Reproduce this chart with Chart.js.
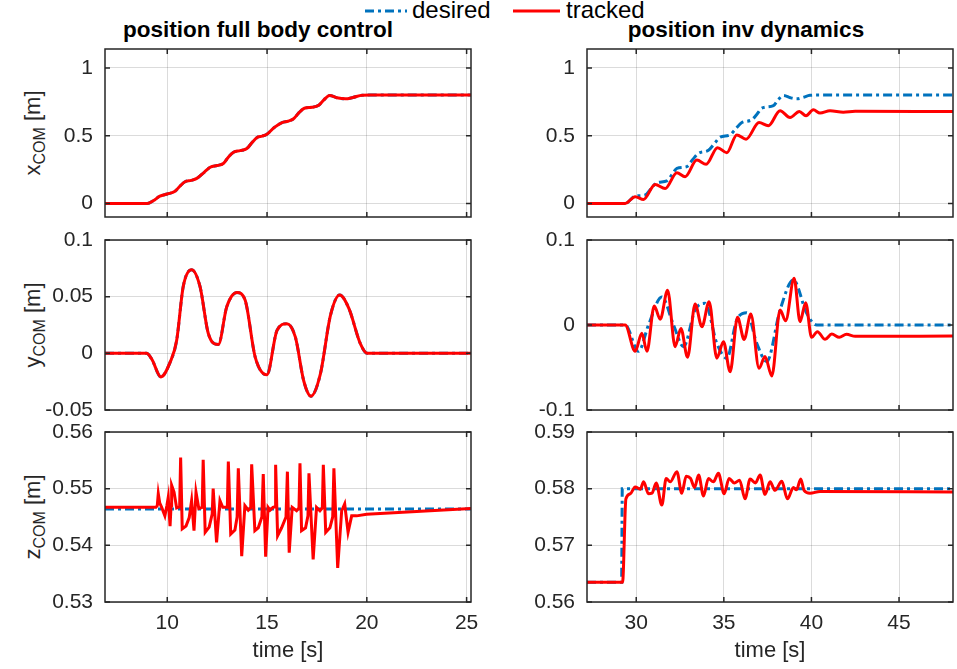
<!DOCTYPE html>
<html>
<head>
<meta charset="utf-8">
<script src="https://cdn.jsdelivr.net/npm/chart.js@4.4.0/dist/chart.umd.min.js"></script>
<style>
  body { margin: 0; background: #fff; width: 957px; height: 669px; overflow: hidden; position: relative;
         font-family: "Liberation Sans", Arial, sans-serif; color: #262626; }
  canvas { position: absolute; }
  .title { position: absolute; top: 17px; font-weight: bold; font-size: 22.5px; line-height: 26px;
           color: #000; white-space: nowrap; transform: translateX(-50%); }
  .ylab { position: absolute; font-size: 22px; line-height: 26px; white-space: nowrap;
          transform: translate(-50%, -50%) rotate(-90deg); }
  .ylab sub { font-size: 16px; vertical-align: -5px; }
  .leg { position: absolute; top: -3px; font-size: 24px; line-height: 26px; color: #000; }
</style>
</head>
<body>
<svg style="position:absolute;left:0;top:0" width="957" height="24">
  <line x1="365" y1="11" x2="407" y2="11" stroke="#0072BD" stroke-width="3" stroke-dasharray="9 4 3 4" />
  <line x1="513" y1="11" x2="560" y2="11" stroke="#FF0000" stroke-width="3" />
</svg>
<div class="leg" style="left:412px">desired</div>
<div class="leg" style="left:566px">tracked</div>
<div class="title" style="left:258px">position full body control</div>
<div class="title" style="left:746px">position inv dynamics</div>
<div class="ylab" style="left:36px;top:133px">x<sub>COM</sub> [m]</div>
<div class="ylab" style="left:36px;top:325px">y<sub>COM</sub> [m]</div>
<div class="ylab" style="left:36px;top:517px">z<sub>COM</sub> [m]</div>

<canvas id="fullX" width="480" height="195" style="left:0;top:40px"></canvas>
<canvas id="invX" width="477" height="195" style="left:480px;top:40px"></canvas>
<canvas id="fullY" width="480" height="206" style="left:0;top:222px"></canvas>
<canvas id="invY" width="477" height="206" style="left:480px;top:222px"></canvas>
<canvas id="fullZ" width="480" height="255" style="left:0;top:414px"></canvas>
<canvas id="invZ" width="477" height="255" style="left:480px;top:414px"></canvas>

<script>
const blue = "#0072BD"
const red = "#FF0000"
const font = "'Liberation Sans', Arial, sans-serif"

// ---- position full body control ----
const fullTicksX = [10, 15, 20, 25]

const tFullX = [6.88, 9.0, 9.3, 9.63, 10.0, 10.39, 10.65, 10.89, 11.2, 11.48, 11.85, 12.15, 12.5, 12.81,
  13.05, 13.32, 13.65, 13.99, 14.25, 14.52, 14.75, 14.99, 15.35, 15.75, 16.05, 16.33, 16.6, 16.87,
  17.25, 17.59, 17.85, 18.14, 18.5, 18.93, 19.3, 19.77, 20.2, 25.22]
const xFullDesired = [0, 0, 0.02, 0.054, 0.07, 0.09, 0.13, 0.16, 0.17, 0.185, 0.23, 0.267, 0.28, 0.295,
  0.34, 0.378, 0.39, 0.405, 0.45, 0.489, 0.497, 0.51, 0.56, 0.597, 0.607, 0.625, 0.67, 0.703,
  0.71, 0.725, 0.765, 0.797, 0.78, 0.772, 0.782, 0.799, 0.8, 0.8]
const xFullTracked = [0, 0, 0.02, 0.054, 0.07, 0.09, 0.13, 0.16, 0.17, 0.185, 0.23, 0.267, 0.28, 0.295,
  0.34, 0.378, 0.39, 0.405, 0.45, 0.489, 0.497, 0.51, 0.56, 0.597, 0.607, 0.625, 0.67, 0.703,
  0.71, 0.725, 0.765, 0.797, 0.78, 0.772, 0.782, 0.799, 0.8, 0.8]

const tFullY = [6.88, 8.96, 9.22, 9.68, 10.14, 10.47, 10.8, 11.22, 11.64, 12.06, 12.56, 12.98, 13.49,
  13.9, 14.41, 14.99, 15.5, 16.0, 16.42, 16.84, 17.2, 17.67, 18.18, 18.64, 19.1, 19.68, 20.02, 25.22]
const yFullDesired = [0, 0, -0.005, -0.0208, -0.008, 0.0113, 0.059, 0.0738, 0.059, 0.0173, 0.0078,
  0.041, 0.0536, 0.047, -0.0036, -0.019, 0.0203, 0.0262, 0.0143, -0.0244, -0.0378, -0.0184, 0.0337,
  0.0515, 0.0396, 0.0084, 0, 0]
const yFullTracked = [0, 0, -0.005, -0.0208, -0.008, 0.0113, 0.059, 0.0738, 0.059, 0.0173, 0.0078,
  0.041, 0.0536, 0.047, -0.0036, -0.019, 0.0203, 0.0262, 0.0143, -0.0244, -0.0378, -0.0184, 0.0337,
  0.0515, 0.0396, 0.0084, 0, 0]

const tFullZDesired = [6.88, 25.22]
const zFullDesired = [0.5464, 0.5464]
const tFullZTracked = [6.88, 9.43, 9.5, 9.55, 9.62, 9.72, 9.88, 9.98, 10.05, 10.12, 10.14, 10.19,
  10.22, 10.34, 10.47, 10.62, 10.67, 10.75, 10.94, 11.1, 11.22, 11.34, 11.44, 11.58, 11.75, 11.8,
  11.9, 12.1, 12.25, 12.3, 12.47, 12.64, 12.78, 13.01, 13.06, 13.18, 13.39, 13.5, 13.56, 13.73,
  13.89, 14.06, 14.18, 14.23, 14.39, 14.56, 14.74, 14.81, 14.93, 15.05, 15.15, 15.3, 15.4, 15.43,
  15.53, 15.73, 15.95, 16.02, 16.11, 16.26, 16.48, 16.6, 16.65, 16.73, 16.93, 17.05, 17.1, 17.31,
  17.48, 17.65, 17.77, 17.82, 17.94, 18.15, 18.29, 18.35, 18.54, 18.74, 18.89, 19.06, 19.24, 19.49,
  19.99, 25.22]
const zFullTracked = [0.5467, 0.5467, 0.547, 0.5491, 0.5475, 0.5467, 0.5452, 0.547, 0.5485, 0.5445,
  0.5434, 0.547, 0.5506, 0.5494, 0.5466, 0.5468, 0.5555, 0.5429, 0.5434, 0.5449, 0.5479, 0.5426,
  0.5494, 0.5465, 0.5467, 0.5551, 0.5423, 0.5432, 0.5455, 0.55, 0.5405, 0.5479, 0.5467, 0.5467,
  0.5548, 0.542, 0.5427, 0.545, 0.5536, 0.5381, 0.547, 0.5462, 0.5466, 0.5543, 0.5426, 0.5431,
  0.545, 0.5526, 0.538, 0.5467, 0.5462, 0.5467, 0.5468, 0.5542, 0.5417, 0.5431, 0.545, 0.553,
  0.5387, 0.5467, 0.5461, 0.5466, 0.5545, 0.5426, 0.5431, 0.5452, 0.5527, 0.5375, 0.5467, 0.5461,
  0.5466, 0.5542, 0.5423, 0.5431, 0.545, 0.5536, 0.536, 0.5461, 0.5473, 0.5423, 0.5452, 0.5452,
  0.5455, 0.5465]

// ---- position inv dynamics ----
const invTicksX = [30, 35, 40, 45]

const tInvXDesired = [27.19, 29.37, 29.94, 30.51, 30.85, 31.18, 31.75, 32.05, 32.32, 32.89, 33.2, 33.55,
  34.12, 34.45, 34.79, 35.36, 35.7, 36.03, 36.6, 36.9, 37.17, 37.83, 38.1, 38.4, 38.8, 39.16, 39.5,
  39.92, 40.3, 48.08]
const xInvDesired = [0, 0, 0.054, 0.062, 0.11, 0.153, 0.167, 0.215, 0.259, 0.272, 0.32, 0.37, 0.392,
  0.44, 0.489, 0.507, 0.555, 0.597, 0.618, 0.66, 0.703, 0.722, 0.765, 0.797, 0.78, 0.772, 0.782,
  0.798, 0.8, 0.8]
const tInvXTracked = [27.19, 29.37, 29.94, 30.42, 31.08, 31.65, 32.32, 32.79, 33.46, 33.99, 34.64,
  35.17, 35.74, 36.27, 37.01, 37.54, 38.21, 38.78, 39.31, 39.69, 40.11, 40.49, 41.06, 41.82, 42.5, 48.08]
const xInvTracked = [0, 0, 0.05, 0.03, 0.14, 0.11, 0.227, 0.197, 0.32, 0.289, 0.412, 0.375, 0.506,
  0.474, 0.597, 0.573, 0.684, 0.634, 0.679, 0.647, 0.691, 0.667, 0.684, 0.674, 0.68, 0.679]

const tInvYDesired = [27.19, 29.37, 30.13, 30.7, 31.46, 32.13, 32.7, 33.36, 33.93, 34.6, 35.17, 35.74,
  36.31, 36.88, 37.45, 38.21, 38.97, 39.73, 40.3, 48.08]
const yInvDesired = [0, 0, -0.031, 0, 0.033, 0, -0.0255, 0.0176, 0.0255, -0.0216, -0.039, 0.006,
  0.0145, -0.0216, -0.043, 0.0176, 0.053, 0.0137, 0, 0]
const tInvYTracked = [27.19, 29.37, 29.94, 30.32, 30.61, 31.03, 31.37, 31.79, 32.22, 32.55, 32.93,
  33.36, 33.75, 34.16, 34.6, 34.98, 35.36, 35.78, 36.16, 36.54, 37.01, 37.35, 37.74, 38.21, 38.53,
  39.01, 39.35, 39.67, 40.01, 40.34, 40.78, 41.16, 41.59, 42.0, 42.5, 48.08]
const yInvTracked = [0, 0, -0.031, -0.0098, -0.031, 0.0224, 0.0067, 0.041, -0.0255, -0.004, -0.038,
  0.0247, -0.002, 0.0274, -0.039, -0.0196, -0.055, 0.009, -0.017, 0.0129, -0.051, -0.037, -0.06,
  0.0176, 0.005, 0.055, 0.004, 0.0263, -0.0145, -0.0078, -0.0169, -0.0106, -0.0145, -0.011, -0.0133,
  -0.013]

const tInvZDesired = [27.19, 29.17, 29.2, 48.08]
const zInvDesired = [0.5635, 0.5635, 0.58, 0.58]
const tInvZTracked = [27.19, 29.22, 29.41, 29.66, 29.94, 30.23, 30.42, 30.7, 30.9, 31.14, 31.46, 31.71,
  31.94, 32.32, 32.6, 32.85, 33.1, 33.33, 33.56, 33.84, 34.12, 34.4, 34.69, 35.02, 35.3, 35.6, 35.9,
  36.21, 36.5, 36.8, 37.07, 37.35, 37.64, 37.92, 38.31, 38.63, 38.97, 39.15, 39.39, 39.58, 39.92,
  40.49, 48.08]
const zInvTracked = [0.5635, 0.5635, 0.5782, 0.5791, 0.5803, 0.5799, 0.5812, 0.5791, 0.5792, 0.581,
  0.5771, 0.5818, 0.5812, 0.583, 0.5792, 0.5822, 0.5818, 0.5802, 0.5824, 0.5787, 0.5818, 0.5812,
  0.5827, 0.5791, 0.5818, 0.581, 0.5815, 0.5782, 0.5817, 0.581, 0.5824, 0.579, 0.5812, 0.5797,
  0.5813, 0.5782, 0.5802, 0.5798, 0.5817, 0.5797, 0.5792, 0.5795, 0.5794]

const zip = (ts, vs) => ts.map((t, i) => ({ x: t, y: vs[i] }))

// matlab style box with inward ticks
const boxPlugin = {
  id: "box",
  afterDatasetsDraw(chart) {
    const { ctx, chartArea: a, scales } = chart
    ctx.save()
    ctx.strokeStyle = "#262626"
    ctx.lineWidth = 1.5
    ctx.strokeRect(a.left, a.top, a.right - a.left, a.bottom - a.top)
    ctx.beginPath()
    scales.x.ticks.forEach((t) => {
      const px = scales.x.getPixelForValue(t.value)
      ctx.moveTo(px, a.top)
      ctx.lineTo(px, a.top + 5)
      ctx.moveTo(px, a.bottom)
      ctx.lineTo(px, a.bottom - 5)
    })
    scales.y.ticks.forEach((t) => {
      const py = scales.y.getPixelForValue(t.value)
      ctx.moveTo(a.left, py)
      ctx.lineTo(a.left + 5, py)
      ctx.moveTo(a.right, py)
      ctx.lineTo(a.right - 5, py)
    })
    ctx.stroke()
    ctx.restore()
  },
}

function makePanel(id, p) {
  const line = (data, color, dashed, curve, order) => ({
    data,
    borderColor: color,
    borderWidth: 3,
    borderDash: dashed ? [9, 4, 3, 4] : [],
    pointRadius: 0,
    fill: false,
    order,
    tension: curve ? 0.4 : 0,
    cubicInterpolationMode: curve ? "monotone" : "default",
  })
  new Chart(document.getElementById(id), {
    type: "line",
    data: {
      datasets: [
        line(p.tracked, red, false, p.curveTracked, 0),
        line(p.desired, blue, true, p.curveDesired, 1),
      ],
    },
    options: {
      responsive: false,
      animation: false,
      events: [],
      layout: { padding: { left: 0, right: p.padRight, top: p.padTop, bottom: 0 } },
      plugins: { legend: { display: false }, tooltip: { enabled: false } },
      scales: {
        x: {
          type: "linear",
          min: p.xMin,
          max: p.xMax,
          afterBuildTicks: (s) => { s.ticks = p.xTicks.map((v) => ({ value: v })) },
          afterFit: (s) => { s.height = p.xH; s.paddingLeft = 0; s.paddingRight = 0 },
          grid: { color: "rgba(0,0,0,0.14)", lineWidth: 1, drawTicks: false },
          border: { display: false },
          ticks: { display: p.showX, padding: 9, color: "#262626", maxRotation: 0,
                   font: { size: 21, family: font }, callback: (v) => String(v) },
          title: { display: p.showX, text: "time [s]", color: "#262626",
                   font: { size: 22, family: font }, padding: { top: 0, bottom: 5 } },
        },
        y: {
          type: "linear",
          min: p.yMin,
          max: p.yMax,
          afterBuildTicks: (s) => { s.ticks = p.yTicks.map((v) => ({ value: v })) },
          afterFit: (s) => { s.width = p.yW; s.paddingTop = 0; s.paddingBottom = 0 },
          grid: { color: "rgba(0,0,0,0.14)", lineWidth: 1, drawTicks: false },
          border: { display: false },
          ticks: { padding: 12, color: "#262626", font: { size: 21, family: font },
                   callback: (v) => String(Math.round(v * 1000) / 1000) },
        },
      },
    },
    plugins: [boxPlugin],
  })
}

const leftCol = { xMin: 6.88, xMax: 25.22, xTicks: fullTicksX, yW: 105, padRight: 9 }
const rightCol = { xMin: 27.19, xMax: 48.08, xTicks: invTicksX, yW: 107, padRight: 4 }
const row1 = { padTop: 9, xH: 18, showX: false, yMin: -0.1, yMax: 1.14, yTicks: [0, 0.5, 1] }
const row2 = { padTop: 18, xH: 18, showX: false }
const row3 = { padTop: 18, xH: 67, showX: true }

makePanel("fullX", { ...leftCol, ...row1, curveTracked: true, curveDesired: true,
  tracked: zip(tFullX, xFullTracked), desired: zip(tFullX, xFullDesired) })
makePanel("invX", { ...rightCol, ...row1, curveTracked: true, curveDesired: true,
  tracked: zip(tInvXTracked, xInvTracked), desired: zip(tInvXDesired, xInvDesired) })
makePanel("fullY", { ...leftCol, ...row2, yMin: -0.05, yMax: 0.1, yTicks: [-0.05, 0, 0.05, 0.1],
  curveTracked: true, curveDesired: true,
  tracked: zip(tFullY, yFullTracked), desired: zip(tFullY, yFullDesired) })
makePanel("invY", { ...rightCol, ...row2, yMin: -0.1, yMax: 0.1, yTicks: [-0.1, 0, 0.1],
  curveTracked: true, curveDesired: true,
  tracked: zip(tInvYTracked, yInvTracked), desired: zip(tInvYDesired, yInvDesired) })
makePanel("fullZ", { ...leftCol, ...row3, yMin: 0.53, yMax: 0.56, yTicks: [0.53, 0.54, 0.55, 0.56],
  curveTracked: false, curveDesired: false,
  tracked: zip(tFullZTracked, zFullTracked), desired: zip(tFullZDesired, zFullDesired) })
makePanel("invZ", { ...rightCol, ...row3, yMin: 0.56, yMax: 0.59, yTicks: [0.56, 0.57, 0.58, 0.59],
  curveTracked: true, curveDesired: false,
  tracked: zip(tInvZTracked, zInvTracked), desired: zip(tInvZDesired, zInvDesired) })
</script>
</body>
</html>
